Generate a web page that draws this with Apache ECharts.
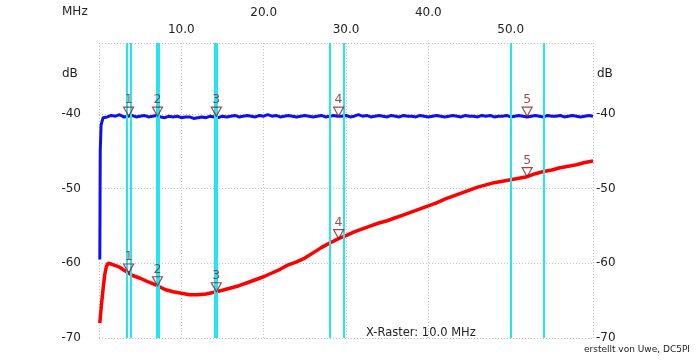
<!DOCTYPE html>
<html><head><meta charset="utf-8">
<script src="https://cdn.jsdelivr.net/npm/echarts@6/dist/echarts.min.js"></script>
<style>html,body{margin:0;padding:0;background:#fff}#c{width:700px;height:360px}</style>
</head><body><div id="c"></div>
<script>
// ---- data ----
const blueFreq = [0.1, 0.15, 0.25, 0.5, 1,1.5,2,2.5,3,3.5,4,4.5,5,5.5,6,6.5,7,7.5,8,8.5,9,9.5,10,10.5,11,11.5,12,12.5,13,13.5,14,14.5,15,15.5,16,16.5,17,17.5,18,18.5,19,19.5,20,20.5,21,21.5,22,22.5,23,23.5,24,24.5,25,25.5,26,26.5,27,27.5,28,28.5,29,29.5,30,30.5,31,31.5,32,32.5,33,33.5,34,34.5,35,35.5,36,36.5,37,37.5,38,38.5,39,39.5,40,40.5,41,41.5,42,42.5,43,43.5,44,44.5,45,45.5,46,46.5,47,47.5,48,48.5,49,49.5,50,50.5,51,51.5,52,52.5,53,53.5,54,54.5,55,55.5,56,56.5,57,57.5,58,58.5,59,59.5,60];
const blueDb = [-59.5, -45.0, -41.5, -40.5,
  -40.4,-40.2,-40.3,-40.1,-40.4,-40.3,-40.2,-40.4,-40.3,-40.2,
  -40.4,-40.3,-40.2,-40.4,-40.5,-40.3,-40.4,-40.3,-40.5,-40.4,
  -40.4,-40.6,-40.5,-40.4,-40.5,-40.3,-40.4,-40.5,-40.3,-40.4,
  -40.3,-40.2,-40.4,-40.3,-40.2,-40.3,-40.4,-40.2,-40.3,-40.1,
  -40.3,-40.2,-40.4,-40.3,-40.2,-40.3,-40.4,-40.3,-40.2,-40.3,
  -40.4,-40.3,-40.2,-40.4,-40.3,-40.2,-40.3,-40.3,-40.2,-40.4,
  -40.3,-40.1,-40.3,-40.2,-40.4,-40.3,-40.2,-40.3,-40.4,-40.2,
  -40.3,-40.4,-40.2,-40.3,-40.3,-40.4,-40.2,-40.3,-40.4,-40.3,
  -40.2,-40.3,-40.4,-40.3,-40.2,-40.3,-40.4,-40.2,-40.3,-40.3,
  -40.4,-40.2,-40.3,-40.2,-40.4,-40.3,-40.3,-40.2,-40.4,-40.3,
  -40.2,-40.3,-40.4,-40.3,-40.2,-40.3,-40.4,-40.2,-40.3,-40.3,
  -40.2,-40.4,-40.3,-40.2,-40.3,-40.4,-40.3,-40.2,-40.3];
const redFreq = [0.1,0.3,0.5,0.7,0.9,1.1,1.5,2,2.5,3,3.6,4,5,6,7.1,8,9,10,11,12,13,14.25,15,16,17,18,19,20,21,22,23,24,25,26,27,28,29.1,30,31,32,33,34,35,36,37,38,39,40,41,42,43,44,45,46,47,48,49,50,51,52,53,54,55,56,57,58,59,60];
const redDb = [-68.0,-65.5,-63.4,-61.5,-60.4,-60.0,-60.1,-60.3,-60.5,-60.9,-61.3,-61.6,-62.0,-62.5,-63.0,-63.5,-63.8,-64.0,-64.2,-64.2,-64.1,-63.8,-63.6,-63.3,-63.0,-62.6,-62.2,-61.8,-61.3,-60.8,-60.2,-59.8,-59.3,-58.6,-57.9,-57.3,-56.7,-56.3,-55.8,-55.4,-55.0,-54.6,-54.3,-53.9,-53.5,-53.1,-52.7,-52.3,-51.9,-51.4,-51.0,-50.6,-50.2,-49.8,-49.5,-49.2,-49.0,-48.8,-48.6,-48.4,-48.0,-47.7,-47.5,-47.2,-47.0,-46.8,-46.5,-46.3];
const markerFreq = [3.6, 7.1, 14.25, 29.1, 52.0];
const markerNames = ['1','2','3','4','5'];
const blueMarkerDb = [-40.3, -40.3, -40.3, -40.3, -40.3];
const redMarkerDb = [-61.3, -63.0, -63.8, -56.7, -48.4];
const bandEdges = [3.35, 3.8, 7.0, 7.2, 14.0, 14.35, 28.0, 29.7, 50.0, 54.0];
const xMin = 0, xMax = 60, xStep = 10;
const yMin = -70, yMax = -30.5, yStep = 10;
const xLowRow = [10, 30, 50];
const xHighRow = [20, 40];

// ---- chart ----
const FONT = 'DejaVu Sans';
const chart = echarts.init(document.getElementById('c'), null, {renderer: 'canvas'});
const zip = (a, b) => a.map((v, i) => [v, b[i]]);
const triPath = 'path://M0,0 L10,0 L5,9 Z';
const markerSeries = (dbs) => ({
  type: 'scatter', xAxisIndex: 0, yAxisIndex: 0, z: 5,
  data: markerFreq.map((f, i) => ({value: [f, dbs[i]], name: markerNames[i]})),
  symbol: triPath, symbolSize: [10, 9], symbolOffset: [0, -4.5],
  itemStyle: {color: 'rgba(255,255,255,0)', borderColor: '#8b1a1a', borderWidth: 1.2},
  label: {show: true, position: 'top', distance: 0, formatter: p => p.name,
    color: '#8b1a1a', fontFamily: FONT, fontSize: 12.5},
  silent: true
});
const gridLine = {show: true, lineStyle: {color: '#c4c4c4', type: [1, 2], width: 1}};
const option = {
  animation: false,
  backgroundColor: '#fff',
  grid: {left: 99, right: 107, top: 43, bottom: 22, containLabel: false},
  xAxis: [
    {type: 'value', position: 'top', min: xMin, max: xMax, interval: xStep,
     axisLine: {show: false}, axisTick: {show: false}, splitLine: gridLine,
     axisLabel: {margin: 7, color: '#222', fontFamily: FONT, fontSize: 12,
       formatter: v => xLowRow.includes(v) ? v.toFixed(1) : ''}},
    {type: 'value', position: 'top', min: xMin, max: xMax, interval: xStep,
     axisLine: {show: false}, axisTick: {show: false}, splitLine: {show: false},
     axisLabel: {margin: 24, color: '#222', fontFamily: FONT, fontSize: 12,
       formatter: v => xHighRow.includes(v) ? v.toFixed(1) : ''}}
  ],
  yAxis: [
    {type: 'value', position: 'left', min: yMin, max: yMax, interval: yStep,
     axisLine: {show: false}, axisTick: {show: false}, splitLine: gridLine,
     axisLabel: {margin: 18, color: '#222', fontFamily: FONT, fontSize: 12,
       formatter: v => (v % 10 === 0) ? String(v) : ''}},
    {type: 'value', position: 'right', min: yMin, max: yMax, interval: yStep,
     axisLine: {show: false}, axisTick: {show: false}, splitLine: {show: false},
     axisLabel: {margin: 3, color: '#222', fontFamily: FONT, fontSize: 12,
       formatter: v => (v % 10 === 0) ? String(v) : ''}}
  ],
  graphic: [
    {type: 'text', left: 62, top: 6, style: {text: 'MHz', fill: '#222', font: '12px "DejaVu Sans"'}},
    {type: 'text', left: 62, top: 68, style: {text: 'dB', fill: '#222', font: '12px "DejaVu Sans"'}},
    {type: 'text', left: 597, top: 68, style: {text: 'dB', fill: '#222', font: '12px "DejaVu Sans"'}},
    {type: 'text', left: 366, top: 327, style: {text: 'X-Raster: 10.0 MHz', fill: '#222', font: '11.5px "DejaVu Sans"'}},
    {type: 'text', right: 10, top: 345, style: {text: 'erstellt von Uwe, DC5PI', fill: '#222', font: '9px "DejaVu Sans"'}}
  ],
  series: [
    {type: 'line', data: [], z: 1, silent: true,
     markLine: {silent: true, symbol: 'none', label: {show: false},
       lineStyle: {color: '#22e6f4', width: 2, type: 'solid'},
       data: bandEdges.map(f => ({xAxis: f}))}},
    {type: 'line', name: 'red', data: zip(redFreq, redDb), showSymbol: false, z: 3,
     lineStyle: {color: '#ff0000', width: 3.5}},
    {type: 'line', name: 'blue', data: zip(blueFreq, blueDb), showSymbol: false, z: 3,
     lineStyle: {color: '#1010ee', width: 3}},
    markerSeries(blueMarkerDb),
    markerSeries(redMarkerDb)
  ]
};
chart.setOption(option);
</script></body></html>
